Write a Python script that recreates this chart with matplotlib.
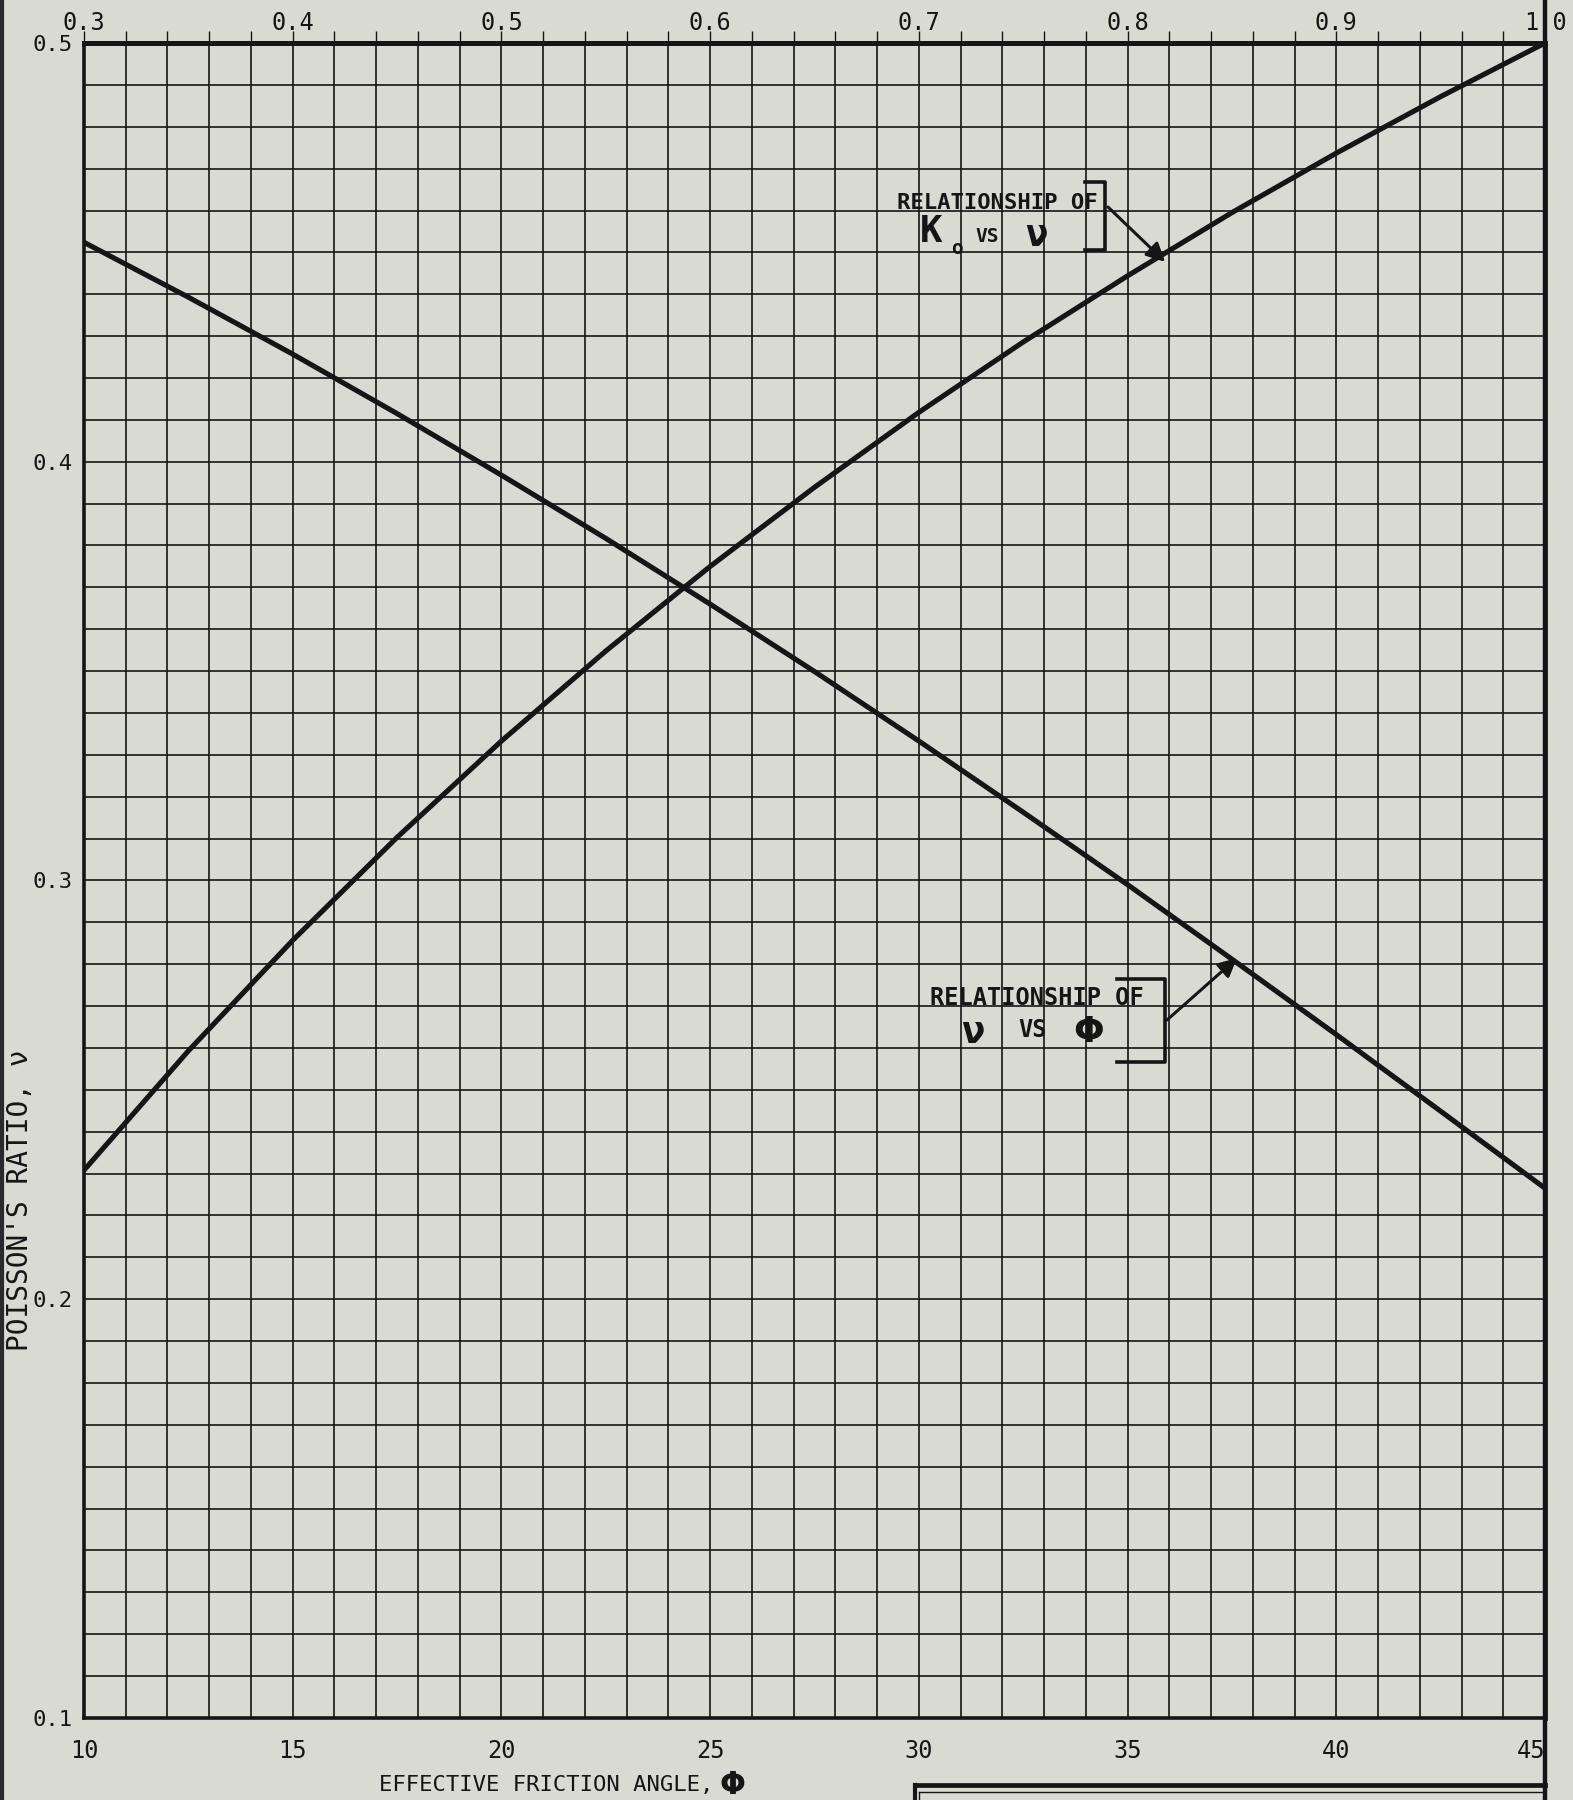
import matplotlib
matplotlib.use("Agg")
import matplotlib.pyplot as plt
from matplotlib.lines import Line2D
import numpy as np

# ---- data -------------------------------------------------------------
# Poisson's ratio against effective friction angle (bottom scale, degrees)
phi_deg = [10, 12.5, 15, 17.5, 20, 22.5, 25, 27.5, 30, 32.5, 35, 37.5, 40, 42.5, 45]
mu_vs_phi = [0.4524, 0.4393, 0.4257, 0.4115, 0.3968, 0.3817, 0.3660, 0.3499,
             0.3333, 0.3163, 0.2990, 0.2812, 0.2632, 0.2449, 0.2265]

# Poisson's ratio against coefficient of earth pressure at rest (top scale)
k0_vals = [0.30, 0.35, 0.40, 0.45, 0.50, 0.55, 0.60, 0.65, 0.70, 0.75,
           0.80, 0.85, 0.90, 0.95, 1.00]
mu_vs_k0 = [0.2308, 0.2593, 0.2857, 0.3103, 0.3333, 0.3548, 0.3750, 0.3939,
            0.4118, 0.4286, 0.4444, 0.4595, 0.4737, 0.4872, 0.5000]

phi_ticks = [10, 15, 20, 25, 30, 35, 40, 45]
phi_ticklabels = ["10", "15", "20", "25", "30", "35", "40", "45"]
k0_ticks = [0.3, 0.4, 0.5, 0.6, 0.7, 0.8, 0.9, 1.0]
k0_ticklabels = ["0.3", "0.4", "0.5", "0.6", "0.7", "0.8", "0.9", "1.0"]
mu_ticks = [0.1, 0.2, 0.3, 0.4, 0.5]
mu_ticklabels = ["0.1", "0.2", "0.3", "0.4", "0.5"]

# ---- style ------------------------------------------------------------
paper = "#d9dbd2"
ink = "#151515"
plt.rcParams["font.family"] = ["DejaVu Sans Mono", "DejaVu Sans"]
greek = ["DejaVu Sans"]

fig = plt.figure(figsize=(15.73, 18.0), dpi=100, facecolor=paper)
ax = fig.add_axes([0.0534, 0.0456, 0.9288, 0.9305])
ax.set_facecolor(paper)

ax.set_xlim(10, 45)
ax.set_ylim(0.1, 0.5)

# graph-paper grid: 1 degree by 0.01
ax.set_xticks(np.arange(10, 45.01, 1.0), minor=True)
ax.set_yticks(np.arange(0.1, 0.5001, 0.01), minor=True)
ax.set_xticks(phi_ticks)
ax.set_xticklabels(phi_ticklabels)
ax.set_yticks(mu_ticks)
ax.set_yticklabels(mu_ticklabels)
ax.grid(True, which="both", color=ink, lw=1.2)
ax.set_axisbelow(True)
ax.tick_params(axis="x", which="both", length=0, pad=15, labelsize=17,
               labelcolor=ink)
ax.tick_params(axis="y", which="both", length=0, pad=8, labelsize=16,
               labelcolor=ink)
for lab in ax.get_xticklabels():
    if lab.get_text() == "45":
        lab.set_horizontalalignment("right")

for side, lw in [("left", 2.6), ("bottom", 2.6), ("top", 3.6), ("right", 3.4)]:
    ax.spines[side].set_color(ink)
    ax.spines[side].set_linewidth(lw)

ax.plot(phi_deg, mu_vs_phi, color=ink, lw=3.7, solid_capstyle="round",
        solid_joinstyle="round", zorder=4)

# top scale for K0
ax2 = ax.twiny()
ax2.set_xlim(0.3, 1.0)
ax2.set_ylim(0.1, 0.5)
ax2.set_xticks(k0_ticks)
ax2.set_xticklabels(k0_ticklabels)
ax2.set_xticks(np.arange(0.3, 1.0001, 0.02), minor=True)
ax2.tick_params(axis="x", which="both", direction="out", length=9, width=1.0,
                color=ink, pad=-3, labelsize=17, labelcolor=ink)
for s in ax2.spines.values():
    s.set_visible(False)
ax2.plot(k0_vals, mu_vs_k0, color=ink, lw=3.7, solid_capstyle="round",
         solid_joinstyle="round", zorder=4)

# axis titles
ax.text(0.2019, -0.040, "EFFECTIVE FRICTION ANGLE,", transform=ax.transAxes,
        ha="left", va="center", fontsize=16, color=ink)
ax.text(0.4350, -0.0405, "Φ", transform=ax.transAxes, family=greek,
        ha="left", va="center", fontsize=22, fontweight="bold", color=ink)
ax.text(-0.0440, 0.309, "POISSON'S RATIO, ν", transform=ax.transAxes,
        ha="center", va="center", rotation=90, fontsize=20, color=ink)

T = ax.transAxes
bold = dict(transform=T, color=ink, fontweight="bold", va="center", zorder=6)

# label for the K0 curve
ax.text(0.5565, 0.9045, "RELATIONSHIP OF", ha="left", fontsize=16, **bold)
ax.text(0.572, 0.8872, "K", ha="left", fontsize=27, **bold)
ax.text(0.5935, 0.8772, "o", ha="left", fontsize=14, **bold)
ax.text(0.610, 0.8842, "VS", ha="left", fontsize=14, **bold)
ax.text(0.6440, 0.8850, "ν", ha="left", fontsize=27, **bold)
ax.plot([0.6851, 0.6988, 0.6988, 0.6851], [0.917, 0.917, 0.8764, 0.8764],
        transform=T, color=ink, lw=2.6, zorder=6)
ax.annotate("", xy=(0.740, 0.8693), xytext=(0.7009, 0.9021),
            xycoords=T, textcoords=T,
            arrowprops=dict(arrowstyle="-|>", color=ink, lw=2.2,
                            mutation_scale=28, shrinkA=0, shrinkB=0), zorder=6)

# label for the friction-angle curve
ax.text(0.579, 0.4299, "RELATIONSHIP OF", ha="left", fontsize=17, **bold)
ax.text(0.6000, 0.4096, "ν", ha="left", fontsize=28, **bold)
ax.text(0.6393, 0.4107, "VS", ha="left", fontsize=17, **bold)
ax.text(0.6770, 0.4096, "Φ", ha="left", fontsize=26, family=greek, **bold)
ax.plot([0.7071, 0.7399, 0.7399, 0.7071], [0.4412, 0.4412, 0.3916, 0.3916],
        transform=T, color=ink, lw=2.6, zorder=6)
ax.annotate("", xy=(0.7892, 0.4537), xytext=(0.7413, 0.4167),
            xycoords=T, textcoords=T,
            arrowprops=dict(arrowstyle="-|>", color=ink, lw=2.2,
                            mutation_scale=28, shrinkA=0, shrinkB=0), zorder=6)

# sheet edges and title-block corner
fig.add_artist(Line2D([0.9822, 0.9822], [0.0, 1.0], transform=fig.transFigure,
                      color=ink, lw=3.2))
fig.add_artist(Line2D([0.0012, 0.0012], [0.0, 1.0], transform=fig.transFigure,
                      color="#2a2a2a", lw=3.0))
fig.add_artist(Line2D([0.5816, 0.9822], [0.0084, 0.0084], transform=fig.transFigure,
                      color=ink, lw=3.4))
fig.add_artist(Line2D([0.5816, 0.5816], [0.0, 0.0084], transform=fig.transFigure,
                      color=ink, lw=3.0))
fig.add_artist(Line2D([0.5840, 0.9800], [0.0045, 0.0045], transform=fig.transFigure,
                      color=ink, lw=1.0))
fig.add_artist(Line2D([0.5840, 0.5840], [0.0, 0.0045], transform=fig.transFigure,
                      color=ink, lw=1.0))

fig.savefig("out.png", dpi=100, facecolor=paper)
